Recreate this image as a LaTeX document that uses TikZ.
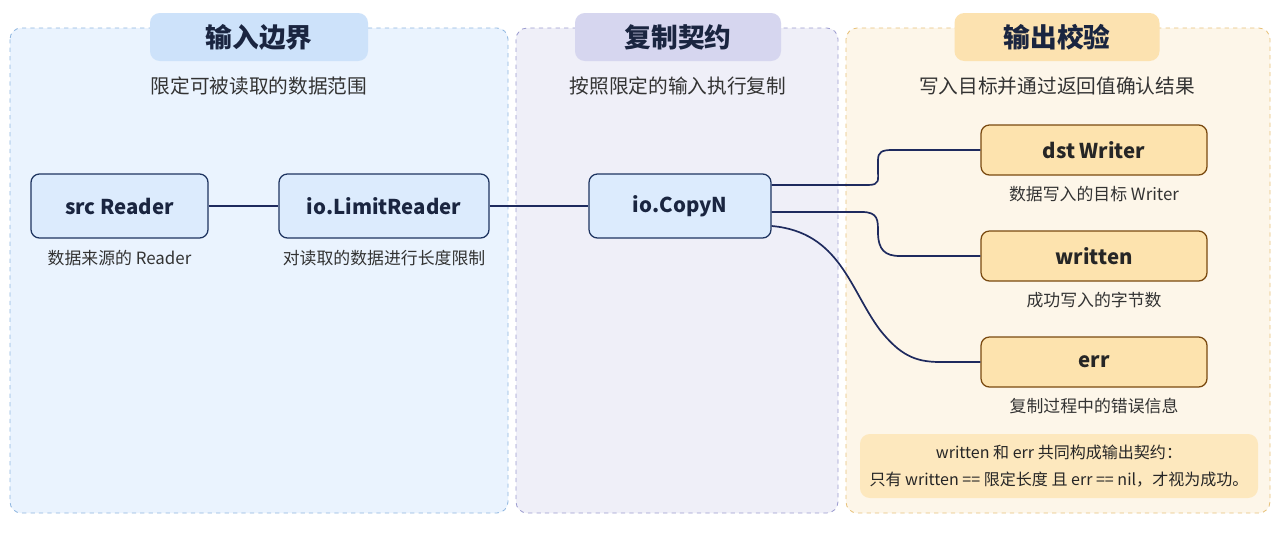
\documentclass[tikz,border=0pt]{standalone}
\usepackage{fontspec}
\setmainfont{Noto Sans CJK SC}
\definecolor{p1f}{HTML}{EAF3FE}\definecolor{p1d}{HTML}{8FB6E0}\definecolor{t1f}{HTML}{CDE2FA}
\definecolor{p2f}{HTML}{EFEFF8}\definecolor{p2d}{HTML}{9C9CD0}\definecolor{t2f}{HTML}{D6D6EF}
\definecolor{p3f}{HTML}{FDF6E9}\definecolor{p3d}{HTML}{E8C27A}\definecolor{t3f}{HTML}{FCE2B0}
\definecolor{bnf}{HTML}{DCEBFD}\definecolor{bnd}{HTML}{1E3460}
\definecolor{onf}{HTML}{FDE3AE}\definecolor{ond}{HTML}{7A4A10}
\definecolor{notef}{HTML}{FDE8BE}\definecolor{conc}{HTML}{1E2A5E}
\definecolor{ttl}{HTML}{1A2540}
\begin{document}
\begin{tikzpicture}[x=0.025cm,y=-0.025cm,
 panel/.style={draw,dashed,rounded corners=8pt,line width=0.6pt},
 tab/.style={rounded corners=7pt,font=\bfseries\fontsize{19}{22}\selectfont,text=ttl},
 sub/.style={font=\fontsize{14}{17}\selectfont,text=black!80},
 lab/.style={font=\fontsize{12}{14}\selectfont,text=black!80},
 bnode/.style={draw=bnd,line width=0.9pt,fill=bnf,rounded corners=6pt,font=\bfseries\fontsize{14.5}{17}\selectfont,text=ttl},
 onode/.style={draw=ond,line width=0.9pt,fill=onf,rounded corners=6pt,font=\bfseries\fontsize{14.5}{17}\selectfont,text=black!85},
 con/.style={draw=conc,line width=1.2pt}]
\useasboundingbox (0,0) rectangle (1280,533);
\fill[white] (0,0) rectangle (1280,533);
% panels
\draw[panel,draw=p1d,fill=p1f] (10,28) rectangle (508,513);
\draw[panel,draw=p2d,fill=p2f] (516,28) rectangle (838,513);
\draw[panel,draw=p3d,fill=p3f] (846,28) rectangle (1270,513);
\node[tab,fill=t1f,minimum width=218*0.025cm,minimum height=48*0.025cm] (t1) at (259,37) {输入边界};
\node[tab,fill=t2f,minimum width=206*0.025cm,minimum height=48*0.025cm] (t2) at (678,37) {复制契约};
\node[tab,fill=t3f,minimum width=205*0.025cm,minimum height=48*0.025cm] (t3) at (1057,37) {输出校验};
\node[sub] (s1) at (259,86) {限定可被读取的数据范围};
\node[sub] (s2) at (678,86) {按照限定的输入执行复制};
\node[sub] (s3) at (1057,86) {写入目标并通过返回值确认结果};
% nodes
\node[bnode,minimum width=177*0.025cm,minimum height=64*0.025cm] (src) at (119.5,206) {src Reader};
\node[bnode,minimum width=210*0.025cm,minimum height=64*0.025cm] (lim) at (384,206) {io.LimitReader};
\node[bnode,minimum width=182*0.025cm,minimum height=64*0.025cm] (cp) at (680,206) {io.CopyN};
\node[onode,minimum width=226*0.025cm,minimum height=50*0.025cm] (dst) at (1094,150) {dst Writer};
\node[onode,minimum width=226*0.025cm,minimum height=50*0.025cm] (wr) at (1094,256) {written};
\node[onode,minimum width=226*0.025cm,minimum height=50*0.025cm] (err) at (1094,362) {err};
\node[lab] (l1) at (119.5,258) {数据来源的 Reader};
\node[lab] (l2) at (384,258) {对读取的数据进行长度限制};
\node[lab] (l3) at (1094,194) {数据写入的目标 Writer};
\node[lab] (l4) at (1094,300) {成功写入的字节数};
\node[lab] (l5) at (1094,406) {复制过程中的错误信息};
\node[fill=notef,rounded corners=7pt,inner xsep=2pt,minimum width=398*0.025cm,minimum height=64*0.025cm,align=center,font=\fontsize{11.4}{19}\selectfont,text=black!85] (note) at (1059,466) {written 和 err 共同构成输出契约：\\只有 written == 限定长度 且 err == nil，才视为成功。};
% connectors
\draw[con] (cp.east|-0,185) -- (868,185) .. controls (880,185) and (878,180) .. (878,170) -- (878,160) .. controls (878,152) and (882,150) .. (892,150) -- (dst.west);
\draw[con] (src.east) -- (lim.west);
\draw[con] (lim.east) -- (cp.west);
\draw[con] (cp.east|-0,212) -- (862,212) .. controls (878,212) and (878,220) .. (878,232) .. controls (878,250) and (885,256) .. (900,256) -- (wr.west);
\draw[con] (cp.east|-0,226) .. controls (840,232) and (850,290) .. (880,330) .. controls (900,355) and (915,362) .. (940,362) -- (err.west);
\end{tikzpicture}
\end{document}
